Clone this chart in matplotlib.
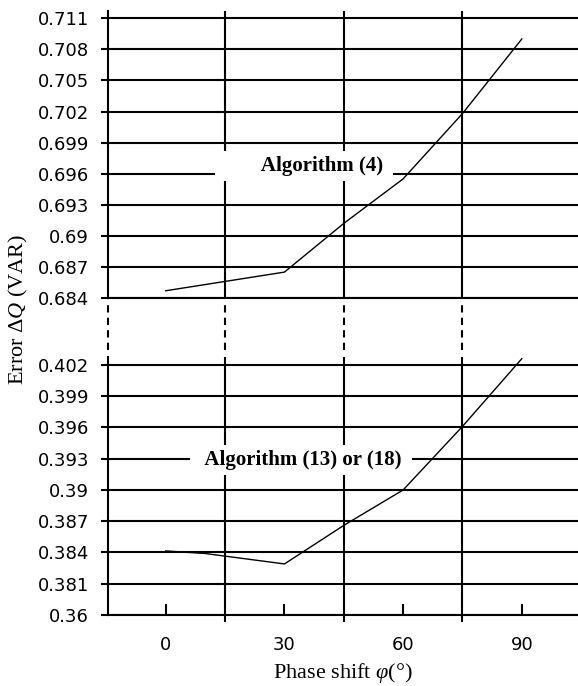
import matplotlib
matplotlib.use("Agg")
import matplotlib.pyplot as plt
from matplotlib.ticker import FixedLocator

plt.rcParams['mathtext.fontset'] = 'custom'
plt.rcParams['mathtext.rm'] = 'Liberation Serif'
plt.rcParams['mathtext.it'] = 'Liberation Serif:italic'

# data
phase_top = [0, 30, 45, 60, 75, 90]
err_alg4 = [0.6847, 0.6865, 0.6912, 0.6955, 0.7018, 0.7090]

phase_bot = [0, 10, 20, 30, 45, 60, 75, 90]
err_alg13 = [0.38415, 0.3839, 0.3834, 0.3829, 0.3866, 0.3900, 0.3961, 0.4026]

x_ticks = [0, 30, 60, 90]
x_grid = [15, 45, 75]

top_ticks = [0.684, 0.687, 0.690, 0.693, 0.696, 0.699, 0.702, 0.705, 0.708, 0.711]
top_labels = ["0.684", "0.687", "0.69", "0.693", "0.696", "0.699", "0.702", "0.705", "0.708", "0.711"]
# lowest tick of the lower panel sits one step below 0.381 but reads 0.36 (broken scale)
bot_ticks = [0.378, 0.381, 0.384, 0.387, 0.390, 0.393, 0.396, 0.399, 0.402]
bot_labels = ["0.36", "0.381", "0.384", "0.387", "0.39", "0.393", "0.396", "0.399", "0.402"]

W, H = 578, 686
fig = plt.figure(figsize=(W / 100, H / 100), dpi=100)

L = 108 / W
xlim = (-14.6, 104.2)
lw = 1.5

ax_top = fig.add_axes([L, 1 - 298 / H, 1 - L, (298 - 11) / H])
ax_mid = fig.add_axes([L, 1 - 357 / H, 1 - L, 59 / H])
ax_bot = fig.add_axes([L, 1 - 615 / H, 1 - L, (615 - 357) / H])

for ax, ticks, labels in [(ax_top, top_ticks, top_labels), (ax_bot, bot_ticks, bot_labels)]:
    ax.set_xlim(*xlim)
    ax.set_yticks(ticks)
    ax.set_yticklabels(labels)
    ax.xaxis.set_minor_locator(FixedLocator(x_grid))
    ax.grid(True, axis='y', which='major', color='black', lw=lw)
    ax.grid(True, axis='x', which='minor', color='black', lw=lw)
    ax.tick_params(axis='y', direction='out', length=4.7, width=lw, pad=9,
                   labelsize=13, labelfontfamily='DejaVu Sans')
    for s in ['top', 'right']:
        ax.spines[s].set_visible(False)
    ax.spines['left'].set_linewidth(lw)
    ax.spines['bottom'].set_linewidth(lw)

ax_top.set_ylim(0.684, 0.7117)
ax_top.tick_params(axis='x', which='both', length=0, labelbottom=False)

ax_bot.set_ylim(0.378, 0.40276)
ax_bot.set_xticks(x_ticks)
ax_bot.set_xticklabels([str(v) for v in x_ticks])
ax_bot.tick_params(axis='x', which='major', direction='in', length=8, width=lw,
                   pad=15, labelsize=13, labelfontfamily='DejaVu Sans')
ax_bot.tick_params(axis='x', which='minor', direction='out', length=5, width=lw)

# dashed links across the break
ax_mid.set_xlim(*xlim)
ax_mid.set_ylim(0, 1)
ax_mid.axis('off')
for xv in [xlim[0]] + x_grid:
    ax_mid.axvline(xv, ymin=0.12, ymax=0.93, color='black', lw=lw,
                   linestyle=(0, (3.5, 2.5)), clip_on=False)

ax_top.plot(phase_top, err_alg4, color='black', lw=1.0)
ax_bot.plot(phase_bot, err_alg13, color='black', lw=1.0)

box = dict(facecolor='white', edgecolor='none', boxstyle='square,pad=0.25')
ax_top.text(56.2, 0.69626, "        Algorithm (4) ", ha='right', va='baseline',
            fontsize=15, fontweight='bold', family='Liberation Serif', bbox=box, zorder=5)
ax_bot.text(61.0, 0.3924, "  Algorithm (13) or (18) ", ha='right', va='baseline',
            fontsize=15, fontweight='bold', family='Liberation Serif', bbox=box, zorder=5)

fig.text(342.5 / W, 1 - 673 / H, r"Phase shift $\varphi$(°)", ha='center', va='center',
         fontsize=16, family='Liberation Serif')
fig.text(18 / W, 1 - 309 / H, r"Error $\Delta Q$ (VAR)", ha='center', va='center',
         rotation=90, fontsize=16, family='Liberation Serif')

fig.savefig("out.png", dpi=100)
